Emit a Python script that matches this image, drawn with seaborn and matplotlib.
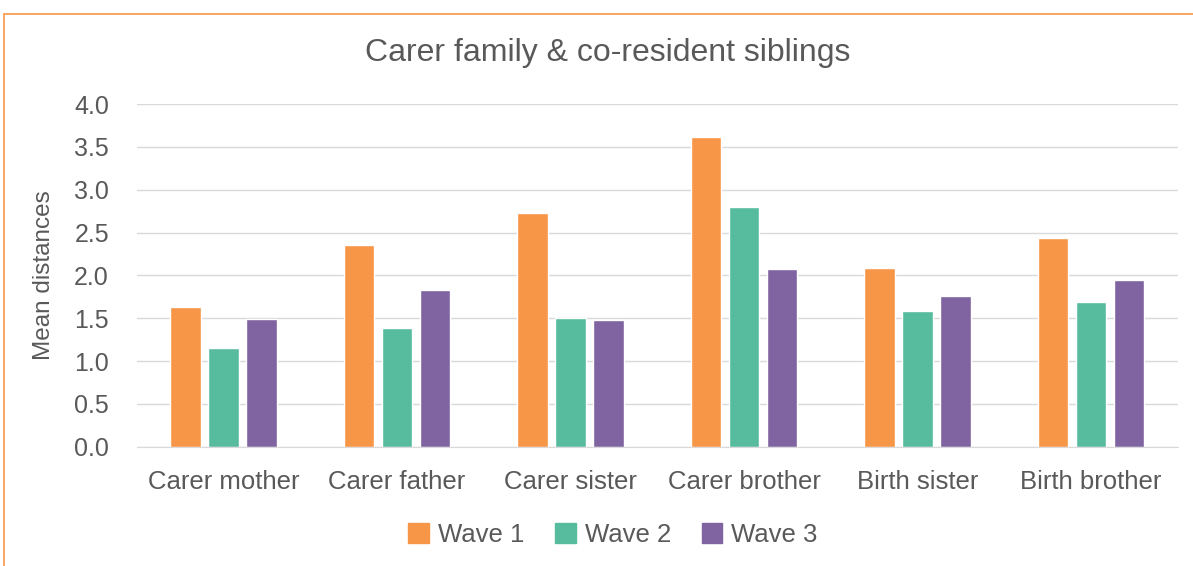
import matplotlib.pyplot as plt
import matplotlib.patches as mpatches
import pandas as pd
import seaborn as sns

# Valeurs
categories = ['Carer mother', 'Carer father', 'Carer sister', 'Carer brother', 'Birth sister', 'Birth brother']
waves = ['Wave 1', 'Wave 2', 'Wave 3']
wave1 = [1.63, 2.36, 2.73, 3.61, 2.08, 2.44]
wave2 = [1.15, 1.39, 1.50, 2.80, 1.58, 1.69]
wave3 = [1.49, 1.83, 1.48, 2.07, 1.76, 1.94]
yticks = [0.0, 0.5, 1.0, 1.5, 2.0, 2.5, 3.0, 3.5, 4.0]

colors = ['#F79646', '#57BB9D', '#8064A2']
text_color = '#595959'

df = pd.DataFrame({
    'category': categories * 3,
    'wave': [w for w in waves for _ in categories],
    'value': wave1 + wave2 + wave3,
})

sns.set_style('white')
plt.rcParams['font.family'] = ['Liberation Sans', 'DejaVu Sans']

fig = plt.figure(figsize=(11.93, 5.66), dpi=100)
ax = fig.add_axes([136.7 / 1193, 1 - 446.7 / 566, (1177.7 - 136.7) / 1193, (446.7 - 104) / 566])

sns.barplot(data=df, x='category', y='value', hue='wave', palette=colors,
            width=0.66, gap=0.2, ax=ax, legend=True, saturation=1)

ax.set_ylim(0, 4)
ax.set_yticks(yticks)
ax.set_yticklabels([f'{t:.1f}' for t in yticks])
ax.set_xlim(-0.5, len(categories) - 0.5)
ax.yaxis.grid(True, color='#D9D9D9', linewidth=1)
ax.set_axisbelow(True)
for s in ['top', 'right', 'left']:
    ax.spines[s].set_visible(False)
ax.spines['bottom'].set_color('#D9D9D9')
ax.tick_params(axis='both', length=0, labelsize=18, colors=text_color)
ax.tick_params(axis='x', pad=17, labelsize=18.5)
ax.tick_params(axis='y', pad=20)
ax.set_xlabel('')
ax.set_ylabel('Mean distances', fontsize=17.5, color=text_color, labelpad=14)

fig.text(608 / 1193, 1 - 53 / 566, 'Carer family & co-resident siblings',
         ha='center', va='center', fontsize=23, color=text_color)

handles = [mpatches.Patch(color=c, label=w) for c, w in zip(colors, waves)]
ax.get_legend().remove()
fig.legend(handles=handles, loc='center', bbox_to_anchor=(613 / 1193, 1 - 535 / 566),
           ncol=3, frameon=False, fontsize=18.5, labelcolor=text_color,
           handlelength=0.8, handleheight=0.8, handletextpad=0.35, columnspacing=1.2)

# cadre orange du graphique
fig.patches.append(mpatches.Rectangle((4 / 1193, -0.1), 1.1, 1 - 14 / 566 + 0.1,
                                      transform=fig.transFigure, fill=False,
                                      edgecolor='#F79646', linewidth=1.2))

fig.savefig('out.png', dpi=100)
